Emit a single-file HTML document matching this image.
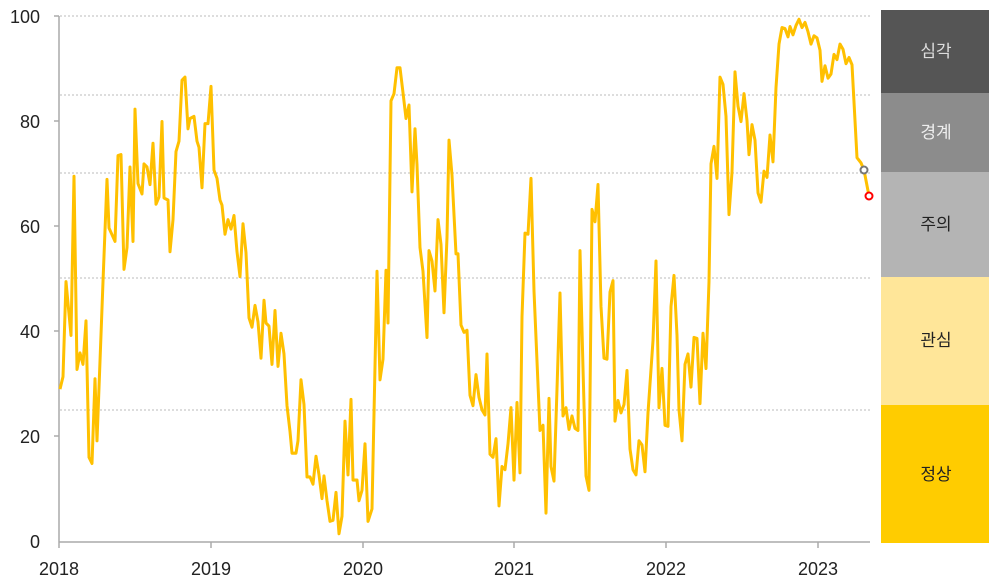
<!DOCTYPE html>
<html><head><meta charset="utf-8"><style>
body{margin:0;background:#fff;width:989px;height:583px;overflow:hidden}
svg{display:block}
text{font-family:"Liberation Sans","Noto Sans CJK KR",sans-serif}
</style></head><body>
<svg width="989" height="583" viewBox="0 0 989 583">
<g stroke="#bbb" stroke-width="1" stroke-dasharray="2,2">
<line x1="60" y1="16" x2="870" y2="16"/>
<line x1="60" y1="95" x2="870" y2="95"/>
<line x1="60" y1="173" x2="870" y2="173"/>
<line x1="60" y1="278" x2="870" y2="278"/>
<line x1="60" y1="410" x2="870" y2="410"/>
</g>
<g stroke="#aaa" stroke-width="1.5">
<line x1="59" y1="16" x2="59" y2="542"/>
<line x1="59" y1="542" x2="870" y2="542"/>
<line x1="54" y1="16" x2="59" y2="16"/><line x1="54" y1="121" x2="59" y2="121"/><line x1="54" y1="226" x2="59" y2="226"/><line x1="54" y1="331" x2="59" y2="331"/><line x1="54" y1="436" x2="59" y2="436"/>
<line x1="59" y1="542" x2="59" y2="548"/><line x1="211" y1="542" x2="211" y2="548"/><line x1="363" y1="542" x2="363" y2="548"/><line x1="514" y1="542" x2="514" y2="548"/><line x1="666" y1="542" x2="666" y2="548"/><line x1="818" y1="542" x2="818" y2="548"/>
</g>
<g font-size="18" fill="#222" text-anchor="end">
<text x="40" y="23">100</text><text x="40" y="128">80</text><text x="40" y="233">60</text><text x="40" y="338">40</text><text x="40" y="443">20</text><text x="40" y="548">0</text>
</g>
<g font-size="18" fill="#222" text-anchor="middle">
<text x="59" y="575">2018</text><text x="211" y="575">2019</text><text x="363" y="575">2020</text><text x="514" y="575">2021</text><text x="666" y="575">2022</text><text x="818" y="575">2023</text>
</g>
<g transform="translate(0,10) scale(1,1.033) translate(0,-10)">
<polyline fill="none" stroke="#FFC000" stroke-width="3" stroke-linejoin="round" points="60,377 63,365 66,273 71,325 74,171 77,358 80,342 83,353 86,311 89,443 92,449 95,367 97,427 103,273 107,174 109,221 115,234 118,151 121,150 124,261 127,240 130,162 133,234 135,106 138,178 142,188 144,159 147,162 150,179 153,139 156,198 159,191 162,118 164,192 168,194 170,244 173,213 176,147 179,137 182,78 185,75 188,125 190,115 194,113 197,137 199,143 202,182 205,120 208,120 211,84 214,165 217,173 220,194 222,199 225,227 228,213 231,222 234,209 237,244 240,268 243,217 246,245 249,308 252,317 255,296 258,312 261,347 264,291 266,313 269,316 272,353 275,301 278,355 281,323 284,343 287,393 290,418 292,439 296,439 298,427 301,368 304,392 307,462 310,462 313,469 316,442 319,460 322,483 324,461 327,485 330,505 333,504 336,477 339,517 342,500 345,408 348,460 351,387 353,465 357,465 359,485 362,475 365,430 368,505 372,493 377,263 380,368 383,348 386,262 388,313 391,98 394,91 397,66 400,66 403,90 406,115 409,102 412,186 415,125 417,160 420,240 423,263 427,327 429,243 432,253 435,282 438,213 441,237 444,303 447,230 449,136 452,170 456,246 458,246 461,315 464,322 467,320 470,383 473,393 476,363 479,385 482,397 485,402 487,343 490,440 493,443 496,425 499,490 502,452 505,455 508,430 511,395 514,465 517,390 520,458 522,307 525,226 528,227 531,173 534,282 537,350 540,417 543,412 546,497 549,386 551,452 554,466 557,377 560,284 563,403 566,395 569,416 572,403 575,415 578,417 580,243 583,357 586,461 589,475 592,203 595,215 598,179 601,297 604,347 607,348 610,283 613,272 615,408 618,388 621,400 624,392 627,359 630,435 633,455 636,460 639,427 642,431 645,457 648,400 653,330 656,253 659,395 662,357 665,412 668,413 671,297 674,267 677,325 679,397 682,427 685,353 688,343 691,375 694,327 697,328 700,391 703,323 706,357 709,273 711,159 714,142 717,173 720,75 723,82 726,113 729,208 732,167 735,70 738,103 741,118 744,91 747,117 749,150 752,121 755,136 758,187 761,196 764,166 767,172 770,131 773,157 776,85 779,43 782,27 785,28 788,36 790,26 793,34 796,25 799,19 802,27 805,22 808,31 811,43 814,35 817,37 820,49 822,79 825,64 828,76 831,72 834,53 837,58 840,43 843,48 846,62 849,56 852,63 857,153 861,158 864,165 869,190"/>
</g>
<circle cx="864" cy="170" r="3.5" fill="#fff" stroke="#777" stroke-width="2"/>
<circle cx="869" cy="196" r="3.5" fill="#fff" stroke="#f00" stroke-width="2"/>
<rect x="881" y="10" width="108" height="83" fill="#555"/>
<rect x="881" y="93" width="108" height="79" fill="#8c8c8c"/>
<rect x="881" y="172" width="108" height="105" fill="#b4b4b4"/>
<rect x="881" y="277" width="108" height="128" fill="#ffe699"/>
<rect x="881" y="405" width="108" height="138" fill="#ffcc00"/>
<g font-size="17" text-anchor="middle">
<text x="936" y="57" fill="#ddd">심각</text>
<text x="936" y="138" fill="#eee">경계</text>
<text x="936" y="230" fill="#222">주의</text>
<text x="936" y="346" fill="#222">관심</text>
<text x="936" y="480" fill="#222">정상</text>
</g>
</svg>
</body></html>
